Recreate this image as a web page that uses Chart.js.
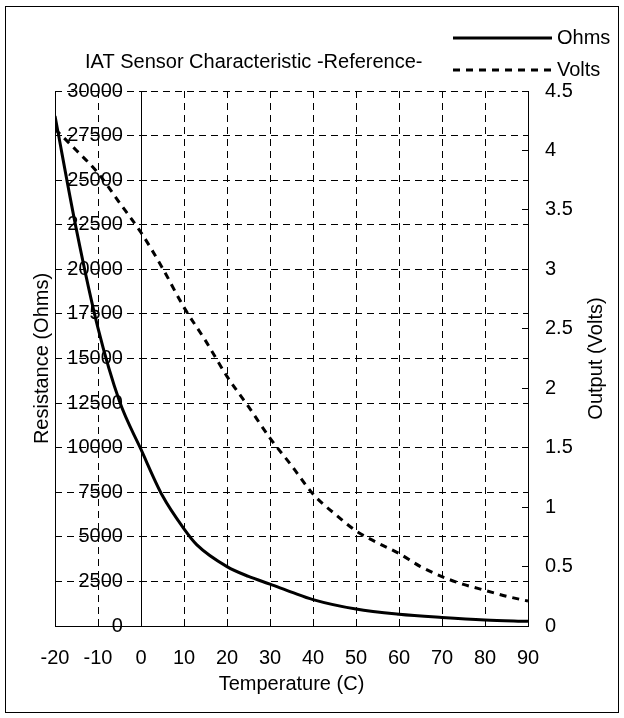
<!DOCTYPE html>
<html>
<head>
<meta charset="utf-8">
<script src="https://cdn.jsdelivr.net/npm/chart.js@4"></script>
<style>
  html, body { margin: 0; padding: 0; background: #fff; }
  #wrap { width: 624px; height: 718px; position: relative; }
</style>
</head>
<body>
<div id="wrap"><canvas id="iatChart"></canvas></div>
<script>
// Sensor curve
const ohmsTemps = [-20, -15, -10, -5, 0, 5, 10, 13, 20, 25, 30, 35, 40, 50, 60, 70, 80, 90];
const ohmsValues = [28600, 22200, 16700, 12600, 9900, 7300, 5450, 4550, 3330, 2780, 2350, 1900, 1480, 950, 660, 480, 340, 260];

const voltTemps = [-20, -15, -10, -5, 0, 5, 10, 15, 20, 25, 30, 35, 40, 45, 50, 55, 60, 65, 70, 75, 80, 85, 90];
const voltValues = [4.18, 4.0, 3.81, 3.56, 3.31, 3.01, 2.68, 2.4, 2.1, 1.845, 1.58, 1.35, 1.11, 0.945, 0.8, 0.7, 0.61, 0.5, 0.415, 0.35, 0.3, 0.25, 0.21];

const chartTitle = 'IAT Sensor Characteristic -Reference-';
const seriesNames = ['Ohms', 'Volts'];
const axisTitles = { x: 'Temperature (C)', left: 'Resistance (Ohms)', right: 'Output (Volts)' };

const FONT = 'Arial, "Liberation Sans", sans-serif';
const voltDash = [7, 6];
const gridDash = [7, 5];

// Frame, title, side titles and legend
const decorations = {
    id: 'decorations',
    afterDraw(chart) {
        const ctx = chart.ctx;
        const area = chart.chartArea;
        ctx.save();
        ctx.strokeStyle = '#000';
        ctx.lineWidth = 1;
        ctx.strokeRect(5.5, 6.5, 613, 706);

        ctx.fillStyle = '#000';
        ctx.font = '20px ' + FONT;
        ctx.textBaseline = 'middle';
        ctx.textAlign = 'left';
        ctx.fillText(chartTitle, 85, 62);

        // legend
        ctx.lineWidth = 3;
        ctx.beginPath();
        ctx.moveTo(453, 38);
        ctx.lineTo(552, 38);
        ctx.stroke();
        ctx.setLineDash(voltDash);
        ctx.beginPath();
        ctx.moveTo(453, 70);
        ctx.lineTo(552, 70);
        ctx.stroke();
        ctx.setLineDash([]);
        ctx.fillText(seriesNames[0], 557, 38);
        ctx.fillText(seriesNames[1], 557, 70);

        // rotated axis titles
        const midY = (area.top + area.bottom) / 2;
        ctx.textAlign = 'center';
        ctx.translate(42, midY);
        ctx.rotate(-Math.PI / 2);
        ctx.fillText(axisTitles.left, 0, 0);
        ctx.restore();

        ctx.save();
        ctx.fillStyle = '#000';
        ctx.font = '20px ' + FONT;
        ctx.textBaseline = 'middle';
        ctx.textAlign = 'center';
        ctx.translate(596, midY);
        ctx.rotate(-Math.PI / 2);
        ctx.fillText(axisTitles.right, 0, 0);
        ctx.restore();
    }
};

const ctx = document.getElementById('iatChart').getContext('2d');
new Chart(ctx, {
    type: 'line',
    data: {
        datasets: [{
            label: seriesNames[0],
            data: ohmsTemps.map((t, i) => ({ x: t, y: ohmsValues[i] })),
            yAxisID: 'y',
            borderColor: '#000',
            borderWidth: 3,
            pointRadius: 0,
            cubicInterpolationMode: 'monotone'
        }, {
            label: seriesNames[1],
            data: voltTemps.map((t, i) => ({ x: t, y: voltValues[i] })),
            yAxisID: 'y1',
            borderColor: '#000',
            borderWidth: 3,
            borderDash: voltDash,
            pointRadius: 0,
            cubicInterpolationMode: 'monotone'
        }]
    },
    options: {
        responsive: true,
        maintainAspectRatio: false,
        animation: false,
        layout: { padding: { left: 55, top: 91, right: 36, bottom: 12 } },
        plugins: {
            legend: { display: false },
            title: { display: false },
            tooltip: { enabled: false }
        },
        scales: {
            x: {
                type: 'linear',
                min: -20,
                max: 90,
                ticks: { stepSize: 10, color: '#000', padding: 20, font: { size: 20, family: FONT } },
                grid: { color: '#000', lineWidth: 1, drawTicks: false },
                border: {
                    display: true, color: '#000', width: 1,
                    // left edge and the value axis at 0 C are solid
                    dash: c => (c.tick && (c.tick.value === -20 || c.tick.value === 0)) ? [] : gridDash
                },
                title: { display: true, text: axisTitles.x, color: '#000', padding: { top: 0, bottom: 10 }, font: { size: 20, family: FONT } },
                afterFit: s => { s.height = 80; }
            },
            y: {
                // labels end a little left of the 0 C line
                position: { x: -4.2 },
                min: 0,
                max: 30000,
                ticks: { stepSize: 2500, color: '#000', padding: 0, font: { size: 20, family: FONT }, callback: v => String(v) },
                grid: { color: '#000', lineWidth: 1, tickLength: -24, tickColor: '#000', tickBorderDash: [0, 18, 6, 100] },
                border: { display: false, dash: gridDash }
            },
            y1: {
                position: 'right',
                min: 0,
                max: 4.5,
                ticks: { stepSize: 0.5, color: '#000', padding: 23, font: { size: 20, family: FONT }, callback: v => String(v) },
                grid: { drawOnChartArea: false, tickLength: -6, tickColor: '#000', color: '#000' },
                border: { display: true, color: '#000', width: 1 },
                afterFit: s => { s.width = 60; }
            }
        }
    },
    plugins: [decorations]
});
</script>
</body>
</html>
